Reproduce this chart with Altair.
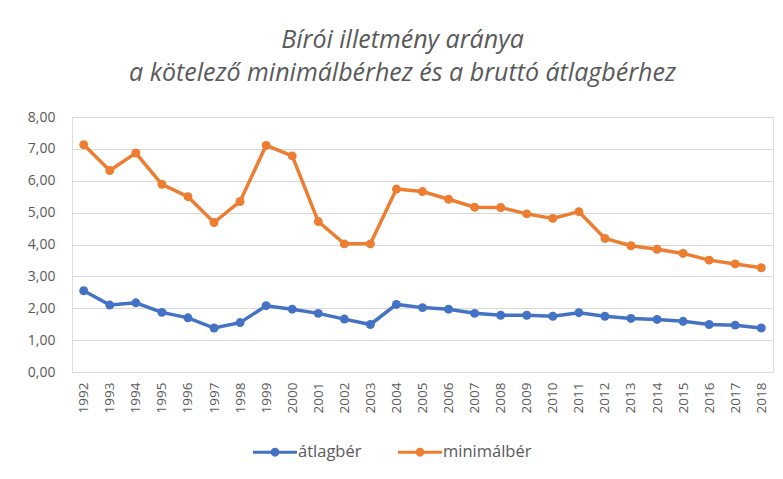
import altair as alt
import pandas as pd

years = [str(y) for y in range(1992, 2019)]
atlagber = [2.55, 2.10, 2.17, 1.87, 1.70, 1.38, 1.55, 2.08, 1.97, 1.84, 1.66, 1.49, 2.12,
            2.02, 1.97, 1.84, 1.78, 1.78, 1.75, 1.86, 1.75, 1.68, 1.65, 1.59, 1.49, 1.47, 1.38]
minimalber = [7.13, 6.32, 6.87, 5.89, 5.50, 4.69, 5.35, 7.11, 6.78, 4.72, 4.02, 4.02, 5.74,
              5.66, 5.42, 5.17, 5.16, 4.96, 4.82, 5.03, 4.19, 3.96, 3.85, 3.72, 3.51, 3.39, 3.27]
series_names = ["átlagbér", "minimálbér"]
colors = ["#4472C4", "#ED7D31"]
y_ticks = [0, 1, 2, 3, 4, 5, 6, 7, 8]

rows = []
for name, vals in zip(series_names, [atlagber, minimalber]):
    for yr, v in zip(years, vals):
        rows.append({"year": yr, "value": v, "series": name})
df = pd.DataFrame(rows)

legend_symbol = ("M-1,-0.07L-0.19,-0.07L-0.19,0.07L-1,0.07Z "
                 "M0.19,-0.07L1,-0.07L1,0.07L0.19,0.07Z "
                 "M-0.2,0A0.2,0.2 0 1,1 0.2,0A0.2,0.2 0 1,1 -0.2,0Z")

x = alt.X("year:O", sort=years, title=None,
          scale=alt.Scale(type="point", padding=0.45),
          axis=alt.Axis(labelAngle=-90, labelAlign="right", labelBaseline="middle",
                        labelPadding=10, ticks=False, domain=False, grid=False,
                        labelFont="Open Sans", labelFontSize=13.5, labelColor="#595959"))
y = alt.Y("value:Q", title=None,
          scale=alt.Scale(domain=[0, 8], nice=False),
          axis=alt.Axis(values=y_ticks, labelExpr="replace(format(datum.value, '.2f'), '.', ',')",
                        ticks=False, domain=False, grid=True, gridColor="#d9d9d9", gridWidth=1.2,
                        labelPadding=17, labelFont="Open Sans", labelFontSize=14,
                        labelColor="#595959"))
color = alt.Color("series:N", sort=series_names,
                  scale=alt.Scale(domain=series_names, range=colors),
                  legend=alt.Legend(title=None, orient="none", direction="horizontal",
                                    legendX=181, legendY=313,
                                    symbolType=legend_symbol, symbolSize=1936,
                                    symbolStrokeWidth=0, symbolOpacity=1,
                                    labelFont="Open Sans", labelFontSize=16.5,
                                    labelColor="#595959", labelOffset=1,
                                    columnPadding=36))

base = alt.Chart(df)
lines = base.mark_line(strokeWidth=3.5).encode(x=x, y=y, color=color)
points = base.mark_circle(size=80, opacity=1).encode(x=x, y=y, color=color)

chart = alt.layer(lines, points).properties(
    width=701, height=255,
    padding={"left": 64, "top": 109, "right": 2, "bottom": 100},
    autosize=alt.AutoSizeParams(type="none"),
    title=alt.TitleParams(["Bírói illetmény aránya",
                           "a kötelező minimálbérhez és a bruttó átlagbérhez"],
                          font="Open Sans", fontSize=25, fontStyle="italic",
                          fontWeight="normal", color="#595959", anchor="middle",
                          dx=-20, offset=24, lineHeight=33),
).configure_view(stroke=None).configure(background="white")

chart.save("out.html", embed_options={"renderer": "svg", "actions": False})
